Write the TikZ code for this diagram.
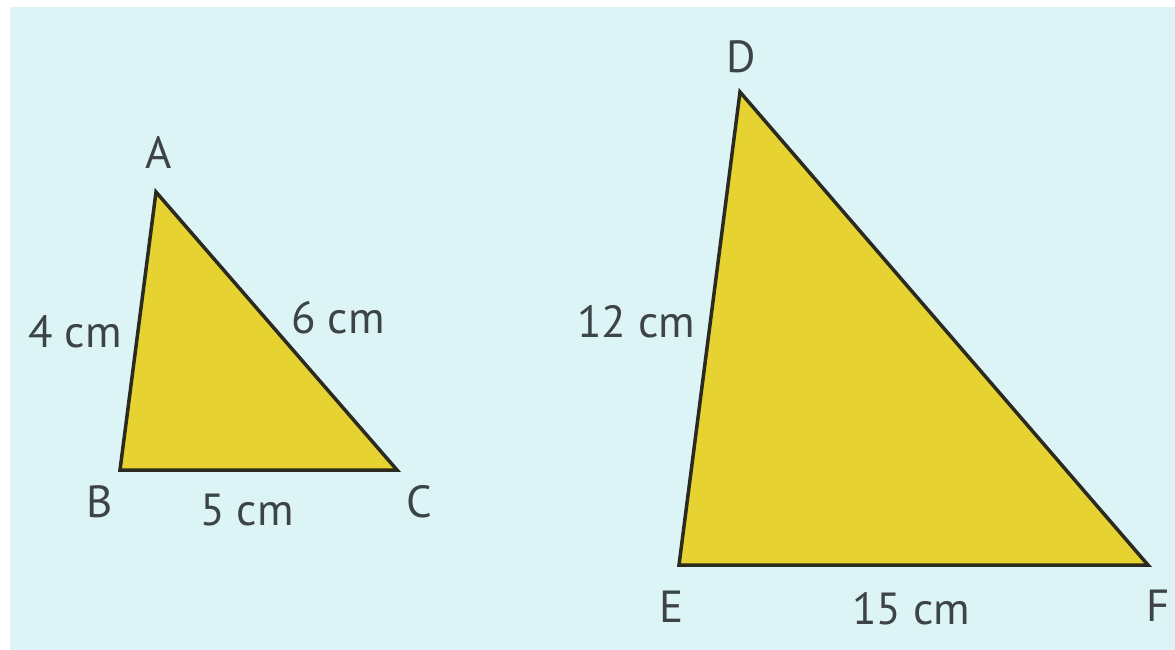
\documentclass[tikz,border=0pt]{standalone}
\usepackage{fontspec}
\setmainfont{PT Sans}
\definecolor{bgc}{HTML}{DDF4F7}
\definecolor{tri}{HTML}{E6D332}
\definecolor{edge}{HTML}{2A2A1E}
\definecolor{txt}{HTML}{3C4446}
\begin{document}
\begin{tikzpicture}[x=1pt,y=-1pt,
  lbl/.style={text=txt,inner sep=0pt,font=\fontsize{45}{50}\selectfont},
  trifig/.style={fill=tri,draw=edge,line width=3.5pt,line join=miter}]
\useasboundingbox (0,0) rectangle (1175,650);
\fill[white] (0,0) rectangle (1175,650);
\fill[bgc] (10,7) rectangle (1175,650);
% small triangle
\coordinate (A) at (156,192);
\coordinate (B) at (120,470);
\coordinate (C) at (397,470);
\draw[trifig] (A) -- (B) -- (C) -- cycle;
% large triangle
\coordinate (D) at (740,92);
\coordinate (E) at (679,565);
\coordinate (F) at (1148,565);
\draw[trifig] (D) -- (E) -- (F) -- cycle;
% labels
\node[lbl] (lA) at (159,153) {A};
\node[lbl] (lB) at (100,502) {B};
\node[lbl] (lC) at (419,502) {C};
\node[lbl] (l4) at (75,332) {4 cm};
\node[lbl] (l6) at (338,318) {6 cm};
\node[lbl] (l5) at (247,510) {5 cm};
\node[lbl] (lD) at (741,57) {D};
\node[lbl] (lE) at (672,607) {E};
\node[lbl] (lF) at (1158,606) {F};
\node[lbl] (l12) at (636,322) {12 cm};
\node[lbl] (l15) at (911,609) {15 cm};
\end{tikzpicture}
\end{document}
